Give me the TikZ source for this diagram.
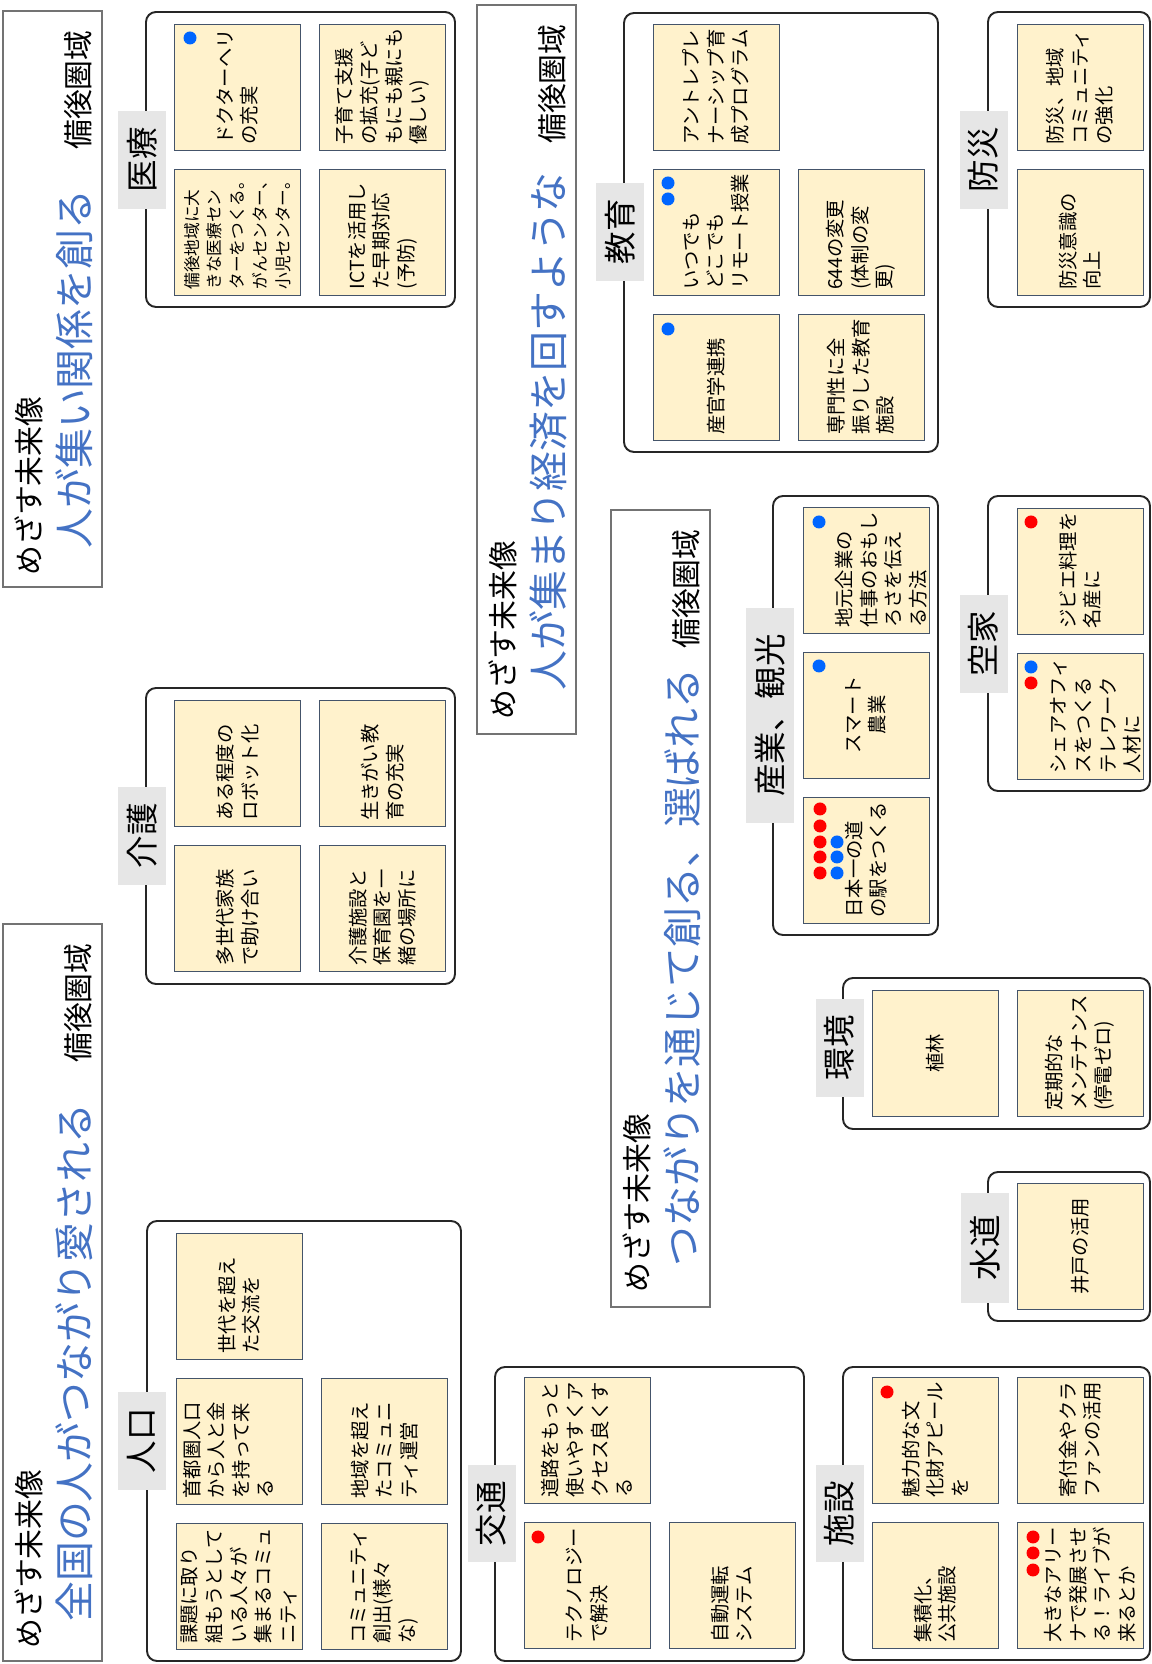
\documentclass[tikz,border=0pt]{standalone}
\usepackage{fontspec}
\setmainfont{Noto Sans CJK JP}
\definecolor{visionblue}{HTML}{4472C4}
\definecolor{stickyfill}{HTML}{FFF2CC}
\definecolor{stickyline}{HTML}{44546A}
\definecolor{labelgray}{HTML}{E6E6E6}
\definecolor{votered}{HTML}{FF0000}
\definecolor{voteblue}{HTML}{0066FF}

\begin{document}
\begin{tikzpicture}[
  rotate=90, transform shape, x=0.02cm, y=-0.02cm,
  visionbox/.style={draw=black!55, line width=0.7pt},
  subline/.style={inner sep=0pt, font=\fontsize{17}{20}\selectfont},
  titleline/.style={inner sep=0pt, text=visionblue, font=\fontsize{22.7}{27}\selectfont},
  areaname/.style={inner sep=0pt, font=\fontsize{17}{20}\selectfont},
  themebox/.style={draw=black!85, line width=1.1pt, rounded corners=0.2cm},
  themelabel/.style={fill=labelgray, minimum width=1.96cm, minimum height=0.96cm,
                     inner sep=0pt, font=\fontsize{18.5}{22}\selectfont},
  sticky/.style={draw=stickyline, line width=0.5pt, fill=stickyfill,
                 minimum width=2.52cm, minimum height=2.52cm, inner sep=0pt,
                 text width=2.3cm, align=left, font=\fontsize{11}{14}\selectfont},
  dot/.style={radius=0.13cm}
]
  \useasboundingbox (0,0) rectangle (1664,1152);

  \draw[visionbox] (1077,3) rectangle (1653,102);
  \node[subline, anchor=base west] (v1sub) at (1088,40) {めざす未来像};
  \node[titleline, anchor=base west] (v1title) at (1115,89) {人が集い関係を創る};
  \node[areaname, anchor=base east] (v1area) at (1634,89) {備後圏域};

  \draw[visionbox] (930,477) rectangle (1659,576);
  \node[subline, anchor=base west] (v2sub) at (944,514) {めざす未来像};
  \node[titleline, anchor=base west] (v2title) at (973,563) {人が集まり経済を回すような};
  \node[areaname, anchor=base east] (v2area) at (1640,563) {備後圏域};

  \draw[visionbox] (357,611) rectangle (1154,710);
  \node[subline, anchor=base west] (v3sub) at (371,648) {めざす未来像};
  \node[titleline, anchor=base west] (v3title) at (397,697) {つながりを通じて創る、選ばれる};
  \node[areaname, anchor=base east] (v3area) at (1135,697) {備後圏域};

  \draw[visionbox] (3,3) rectangle (740,102);
  \node[subline, anchor=base west] (v4sub) at (15,40) {めざす未来像};
  \node[titleline, anchor=base west] (v4title) at (42,89) {全国の人がつながり愛される};
  \node[areaname, anchor=base east] (v4area) at (721,89) {備後圏域};

  \draw[themebox] (1357,146) rectangle (1652,455);
  \node[themelabel] (iryo) at (1504,142) {医療};
  \node[sticky, font=\fontsize{9.5}{13}\selectfont] (iryo1) at (1432,237.5) {備後地域に大\\きな医療セン\\ターをつくる。\\がんセンター、\\小児センター。};
  \node[sticky] (iryo2) at (1577,237.5) {ドクターヘリ\\の充実};
  \node[sticky] (iryo3) at (1432,382.5) {ICTを活用し\\た早期対応\\(予防)};
  \node[sticky] (iryo4) at (1577,382.5) {子育て支援\\の拡充(子ど\\もにも親にも\\優しい)};
  \fill[voteblue] (1626,190) circle[dot];

  \draw[themebox] (1212,624) rectangle (1651,938);
  \node[themelabel] (kyoiku) at (1432,620) {教育};
  \node[sticky] (kyoiku1) at (1286.5,716) {産官学連携};
  \node[sticky] (kyoiku2) at (1286.5,861) {専門性に全\\振りした教育\\施設};
  \node[sticky] (kyoiku3) at (1431.5,716) {いつでも\\どこでも\\リモート授業};
  \node[sticky] (kyoiku4) at (1431.5,861) {644の変更\\(体制の変\\更)};
  \node[sticky] (kyoiku5) at (1576.5,716) {アントレプレ\\ナーシップ育\\成プログラム};
  \fill[voteblue] (1335,668) circle[dot] (1481,668) circle[dot] (1465,668) circle[dot];

  \draw[themebox] (1357,988) rectangle (1652,1150);
  \node[themelabel] (bousai) at (1504,983.5) {防災};
  \node[sticky] (bousai1) at (1431.5,1080) {防災意識の\\向上};
  \node[sticky] (bousai2) at (1577,1080) {防災、地域\\コミュニティ\\の強化};

  \draw[themebox] (729,773) rectangle (1168,938);
  \node[themelabel, minimum width=4.3cm] (sangyo) at (948.5,770) {産業、観光};
  \node[sticky] (sangyo1) at (804,866) {日本一の道\\の駅をつくる};
  \node[sticky, align=center] (sangyo2) at (949,866) {スマート\\農業};
  \node[sticky] (sangyo3) at (1093.5,866) {\rule{0pt}{26.7pt}地元企業の\\仕事のおもし\\ろさを伝え\\る方法};
  \fill[votered] (855,820) circle[dot] (838,820) circle[dot] (822,820) circle[dot]
                 (807,820) circle[dot] (791,820) circle[dot];
  \fill[voteblue] (822,837) circle[dot] (807,837) circle[dot] (791,837) circle[dot];
  \fill[voteblue] (998,819) circle[dot] (1142,819) circle[dot];

  \draw[themebox] (873,988) rectangle (1168,1150);
  \node[themelabel] (akiya) at (1020,983.5) {空家};
  \node[sticky] (akiya1) at (948,1080) {\rule{0pt}{26.7pt}シェアオフィ\\スをつくる\\テレワーク\\人材に};
  \node[sticky] (akiya2) at (1093,1080) {ジビエ料理を\\名産に};
  \fill[voteblue] (997,1031) circle[dot];
  \fill[votered] (981,1031) circle[dot] (1142,1031) circle[dot];

  \draw[themebox] (680,146) rectangle (976,455);
  \node[themelabel] (kaigo) at (828,142) {介護};
  \node[sticky] (kaigo1) at (755.5,237.5) {多世代家族\\で助け合い};
  \node[sticky] (kaigo2) at (900.5,237.5) {ある程度の\\ロボット化};
  \node[sticky] (kaigo3) at (755.5,382.5) {介護施設と\\保育園を一\\緒の場所に};
  \node[sticky] (kaigo4) at (900.5,382.5) {生きがい教\\育の充実};

  \draw[themebox] (3,147) rectangle (443,461);
  \node[themelabel] (jinko) at (223,142) {人口};
  \node[sticky] (jinko1) at (77.5,239) {課題に取り\\組もうとして\\いる人々が\\集まるコミュ\\ニティ};
  \node[sticky] (jinko2) at (223,239) {首都圏人口\\から人と金\\を持って来\\る\rule[-12.7pt]{0pt}{12.7pt}};
  \node[sticky] (jinko3) at (368,239) {世代を超え\\た交流を};
  \node[sticky] (jinko4) at (77.5,384.5) {コミュニティ\\創出(様々\\な)};
  \node[sticky] (jinko5) at (223,384.5) {地域を超え\\たコミュニ\\ティ運営};

  \draw[themebox] (3,495) rectangle (297,804);
  \node[themelabel] (kotsu) at (150.5,491.5) {交通};
  \node[sticky] (kotsu1) at (78.5,587) {テクノロジー\\で解決};
  \node[sticky] (kotsu2) at (223.5,587) {道路をもっと\\使いやすくア\\クセス良くす\\る};
  \node[sticky] (kotsu3) at (78.5,732) {自動運転\\システム};
  \fill[votered] (127,538) circle[dot];

  \draw[themebox] (535,843) rectangle (686,1150);
  \node[themelabel] (kankyo) at (616,839.5) {環境};
  \node[sticky, align=center] (kankyo1) at (610.5,935) {植林};
  \node[sticky] (kankyo2) at (610.5,1080) {定期的な\\メンテナンス\\(停電ゼロ)};

  \draw[themebox] (343,988) rectangle (492,1150);
  \node[themelabel, minimum width=2.2cm] (suido) at (416,985) {水道};
  \node[sticky, align=center] (suido1) at (417.5,1080) {井戸の活用};

  \draw[themebox] (4,843) rectangle (297,1150);
  \node[themelabel] (shisetsu) at (150.5,839.5) {施設};
  \node[sticky] (shisetsu1) at (78.5,935) {集積化、\\公共施設};
  \node[sticky] (shisetsu2) at (223.5,935) {魅力的な文\\化財アピール\\を};
  \node[sticky] (shisetsu3) at (78.5,1080) {\rule{0pt}{21pt}大きなアリー\\ナで発展させ\\る！ライブが\\来るとか};
  \node[sticky] (shisetsu4) at (223.5,1080) {寄付金やクラ\\ファンの活用};
  \fill[votered] (272,887) circle[dot] (127,1033) circle[dot] (111,1033) circle[dot] (94,1033) circle[dot];
\end{tikzpicture}
\end{document}
